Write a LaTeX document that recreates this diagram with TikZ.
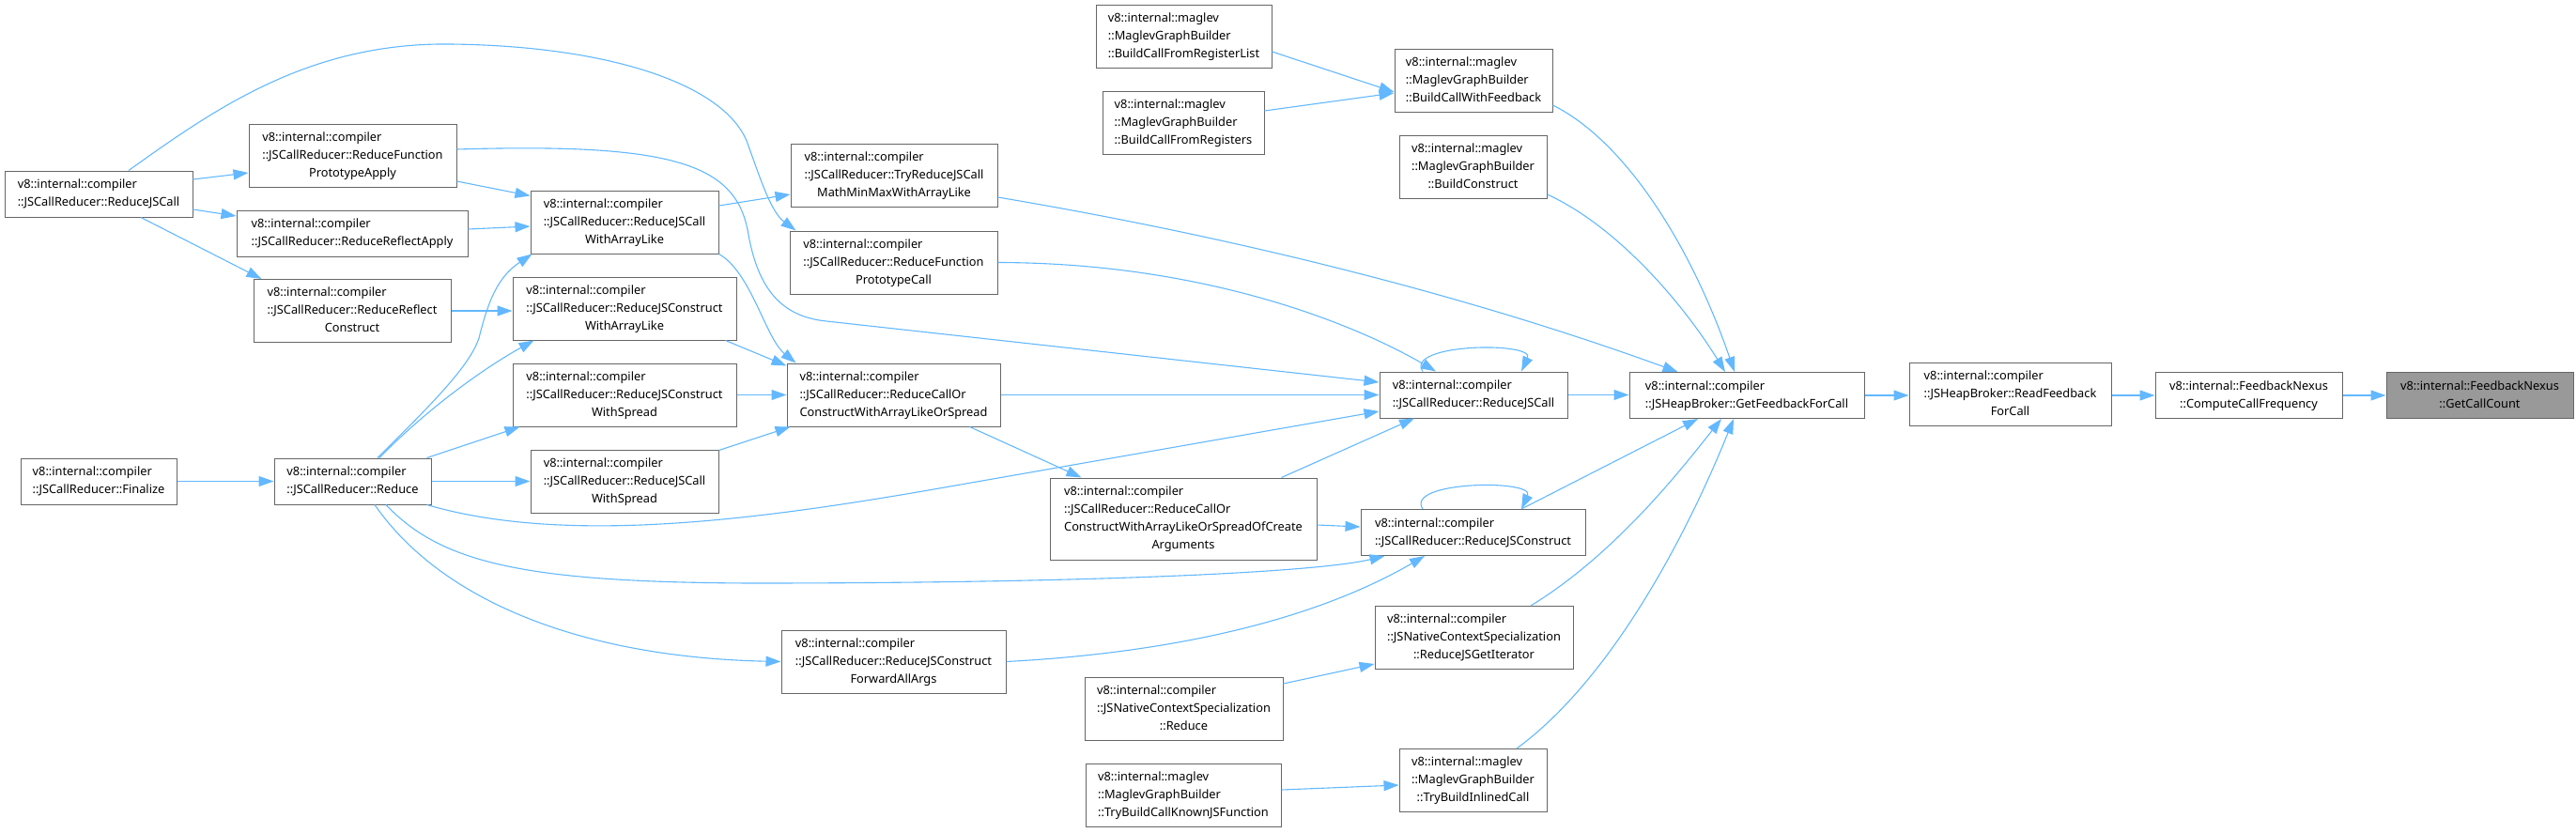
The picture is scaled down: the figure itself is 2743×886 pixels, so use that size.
\documentclass[tikz,border=0pt]{standalone}
\usepackage{fontspec}
\setmainfont{Noto Sans}
\usetikzlibrary{arrows.meta}
\definecolor{edgeblue}{HTML}{63B8FF}
\newcommand\fnlabel[2]{\begin{tabular}{@{}l@{}}#1\\\multicolumn{1}{@{}c@{}}{#2}\end{tabular}}

\begin{document}
\begin{tikzpicture}[x=1pt,y=-1pt,
  fn/.style={draw=black!60,line width=1pt,fill=white,inner sep=2pt,font=\fontsize{12.8}{19}\selectfont},
  two/.style={minimum height=49},
  three/.style={minimum height=67},
  four/.style={minimum height=87},
  focus/.style={fill=black!40},
  edge/.style={draw=edgeblue,line width=1.1pt,-{Triangle[length=16pt,width=11pt]}}]
\useasboundingbox (0,0) rectangle (2743,886);

\node[fn,two,minimum width=200] (lrjc) at (105,206.5) {\fnlabel{v8::internal::compiler}{::JSCallReducer::ReduceJSCall}};
\node[fn,three,minimum width=221] (fpa) at (375.5,165.5) {\fnlabel{v8::internal::compiler\\::JSCallReducer::ReduceFunction}{PrototypeApply}};
\node[fn,two,minimum width=246] (rra) at (375,248.5) {\fnlabel{v8::internal::compiler}{::JSCallReducer::ReduceReflectApply}};
\node[fn,three,minimum width=210] (rrc) at (375,331) {\fnlabel{v8::internal::compiler\\::JSCallReducer::ReduceReflect}{Construct}};
\node[fn,two,minimum width=166] (fin) at (105,512.5) {\fnlabel{v8::internal::compiler}{::JSCallReducer::Finalize}};
\node[fn,two,minimum width=167] (red) at (375.5,512.5) {\fnlabel{v8::internal::compiler}{::JSCallReducer::Reduce}};
\node[fn,three,minimum width=200] (cwal) at (665,236.5) {\fnlabel{v8::internal::compiler\\::JSCallReducer::ReduceJSCall}{WithArrayLike}};
\node[fn,three,minimum width=238] (jcwal) at (665,328.5) {\fnlabel{v8::internal::compiler\\::JSCallReducer::ReduceJSConstruct}{WithArrayLike}};
\node[fn,three,minimum width=238] (jcws) at (665,420.5) {\fnlabel{v8::internal::compiler\\::JSCallReducer::ReduceJSConstruct}{WithSpread}};
\node[fn,three,minimum width=200] (cws) at (665,512.5) {\fnlabel{v8::internal::compiler\\::JSCallReducer::ReduceJSCall}{WithSpread}};
\node[fn,three,minimum width=220] (mmx) at (952,187) {\fnlabel{v8::internal::compiler\\::JSCallReducer::TryReduceJSCall}{MathMinMaxWithArrayLike}};
\node[fn,three,minimum width=221] (fpc) at (951.5,279.5) {\fnlabel{v8::internal::compiler\\::JSCallReducer::ReduceFunction}{PrototypeCall}};
\node[fn,three,minimum width=227] (cocs) at (951.5,420.5) {\fnlabel{v8::internal::compiler\\::JSCallReducer::ReduceCallOr}{ConstructWithArrayLikeOrSpread}};
\node[fn,three,minimum width=239] (fwd) at (951.5,704.5) {\fnlabel{v8::internal::compiler\\::JSCallReducer::ReduceJSConstruct}{ForwardAllArgs}};
\node[fn,four,minimum width=284] (coca) at (1260,552.5) {\fnlabel{v8::internal::compiler\\::JSCallReducer::ReduceCallOr\\ConstructWithArrayLikeOrSpreadOfCreate}{Arguments}};
\node[fn,three,minimum width=187] (bfrl) at (1260.5,39) {\fnlabel{v8::internal::maglev\\::MaglevGraphBuilder}{::BuildCallFromRegisterList}};
\node[fn,three,minimum width=172] (bfr) at (1260,131) {\fnlabel{v8::internal::maglev\\::MaglevGraphBuilder}{::BuildCallFromRegisters}};
\node[fn,three,minimum width=211] (ncsr) at (1260.5,755) {\fnlabel{v8::internal::compiler\\::JSNativeContextSpecialization}{::Reduce}};
\node[fn,three,minimum width=208] (tbck) at (1260,846.5) {\fnlabel{v8::internal::maglev\\::MaglevGraphBuilder}{::TryBuildCallKnownJSFunction}};
\node[fn,three,minimum width=168] (bcwf) at (1569,85.5) {\fnlabel{v8::internal::maglev\\::MaglevGraphBuilder}{::BuildCallWithFeedback}};
\node[fn,three,minimum width=157] (bcon) at (1568.5,178) {\fnlabel{v8::internal::maglev\\::MaglevGraphBuilder}{::BuildConstruct}};
\node[fn,two,minimum width=200] (rjc) at (1569,420.5) {\fnlabel{v8::internal::compiler}{::JSCallReducer::ReduceJSCall}};
\node[fn,two,minimum width=239] (rjcn) at (1568.5,567) {\fnlabel{v8::internal::compiler}{::JSCallReducer::ReduceJSConstruct}};
\node[fn,three,minimum width=211] (rgi) at (1569.5,679) {\fnlabel{v8::internal::compiler\\::JSNativeContextSpecialization}{::ReduceJSGetIterator}};
\node[fn,three,minimum width=157] (tbic) at (1568.5,831) {\fnlabel{v8::internal::maglev\\::MaglevGraphBuilder}{::TryBuildInlinedCall}};
\node[fn,two,minimum width=250] (gfc) at (1860,421) {\fnlabel{v8::internal::compiler}{::JSHeapBroker::GetFeedbackForCall}};
\node[fn,three,minimum width=215] (rfc) at (2140.5,420) {\fnlabel{v8::internal::compiler\\::JSHeapBroker::ReadFeedback}{ForCall}};
\node[fn,two,minimum width=199] (ccf) at (2394.5,421) {\fnlabel{v8::internal::FeedbackNexus}{::ComputeCallFrequency}};
\node[fn,two,focus,minimum width=199] (gcc) at (2640.5,421) {\fnlabel{v8::internal::FeedbackNexus}{::GetCallCount}};

\draw[edge] ([yshift=15.5]lrjc.east) -- ([yshift=-18.5]fpa.west);
\draw[edge] ([yshift=-16.5]lrjc.east) -- ([yshift=18.5]rra.west);
\draw[edge] ([xshift=45]lrjc.south) -- ([xshift=9]rrc.north west);
\draw[edge] ([xshift=32]lrjc.north) .. controls (230,115) and (330,45) .. (480,47)
    .. controls (650,49) and (770,90) .. (795,150) .. controls (808,185) and (820,225) .. ([xshift=7]fpc.north west);
\draw[edge] ([yshift=-27.5]fpa.east) -- ([yshift=-6]cwal.north west);
\draw[edge] ([yshift=6.5]fpa.east) .. controls (720,152) and (785,175) .. (797,250)
    .. controls (807,305) and (830,337) .. (880,342) -- ([yshift=13.5]rjc.west);
\draw[edge] ([yshift=4.5]rra.east) -- ([yshift=-4.5]cwal.west);
\draw[edge] (rrc.east) -- (rrc.east -| jcwal.west);
\draw[edge] (fin.east) -- (red.west);
\draw[edge] ([xshift=26.5]red.north) .. controls (460,430) and (500,390) .. (510,360)
    .. controls (520,320) and (530,295) .. ([xshift=2]cwal.south west);
\draw[edge] ([xshift=28.5]red.north) .. controls (450,440) and (510,395) .. ([xshift=23]jcwal.south west);
\draw[edge] ([xshift=-5]red.north east) -- ([xshift=8]jcws.south west);
\draw[edge] (red.east) -- (cws.west);
\draw[edge] ([xshift=-5]red.south east) .. controls (600,580) and (800,555) .. (1000,520) -- ([yshift=-17.5]rjc.west);
\draw[edge] ([xshift=35.5]red.south) .. controls (470,600) and (560,620) .. (800,621)
    .. controls (1150,621) and (1400,610) .. ([xshift=26]rjcn.south west);
\draw[edge] ([xshift=23.5]red.south) .. controls (470,640) and (620,700) .. (fwd.west);
\draw[edge] ([yshift=17.5]cwal.east) -- ([yshift=-20]mmx.west);
\draw[edge] (cwal.south east) .. controls (800,290) and (815,360) .. ([xshift=10]cocs.north west);
\draw[edge] ([xshift=-12]jcwal.south east) -- ([yshift=-3]cocs.north west);
\draw[edge] (jcws.east) -- (cocs.west);
\draw[edge] ([yshift=-1]cws.north east) -- ([xshift=4]cocs.south west);
\draw[edge] (cocs.east) -- (rjc.west);
\draw[edge] ([xshift=-33]cocs.south east) -- ([xshift=34]coca.north west);
\draw[edge] ([yshift=-23]mmx.east) .. controls (1300,250) and (1550,310) .. ([xshift=52]gfc.north west);
\draw[edge] (fpc.east) .. controls (1300,280) and (1460,355) .. ([xshift=-40]rjc.north);
\draw[edge] (fwd.east) .. controls (1250,695) and (1400,660) .. ([xshift=-51.5]rjcn.south);
\draw[edge] ([yshift=-6.5]coca.east) -- ([yshift=6]rjcn.west);
\draw[edge] ([xshift=-38]coca.north east) -- ([xshift=-63]rjc.south);
\draw[edge] ([xshift=-54]rjc.north) .. controls +(-20,-30) and +(15,-32) .. ([xshift=51]rjc.north);
\draw[edge] (rjc.east) -- (rjc.east -| gfc.west);
\draw[edge] ([xshift=-53.5]rjcn.north) .. controls +(-20,-30) and +(15,-32) .. ([xshift=51.5]rjcn.north);
\draw[edge] ([xshift=51.5]rjcn.north) -- ([xshift=-52]gfc.south);
\draw[edge] ([xshift=60.5]rgi.north) .. controls (1720,590) and (1790,500) .. ([xshift=-27]gfc.south);
\draw[edge] ([xshift=46.5]tbic.north) .. controls (1720,720) and (1800,560) .. ([xshift=-14]gfc.south);
\draw[edge] ([yshift=-26.5]bcwf.east) .. controls (1730,150) and (1800,260) .. ([xshift=-13]gfc.north);
\draw[edge] ([yshift=-29]bcon.east) .. controls (1720,240) and (1790,320) .. ([xshift=-23]gfc.north);
\draw[edge] ([yshift=-16]bfrl.east) -- ([yshift=-12.5]bcwf.west);
\draw[edge] ([yshift=13]bfr.east) -- ([yshift=-13.5]bcwf.west);
\draw[edge] ([yshift=27]ncsr.east) -- ([yshift=-28]rgi.west);
\draw[edge] ([yshift=5.5]tbck.east) -- ([yshift=-5]tbic.west);
\draw[edge] (gfc.east) -- (gfc.east -| rfc.west);
\draw[edge] (ccf.west -| rfc.east) -- (ccf.west);
\draw[edge] (ccf.east) -- (gcc.west);
\end{tikzpicture}
\end{document}
